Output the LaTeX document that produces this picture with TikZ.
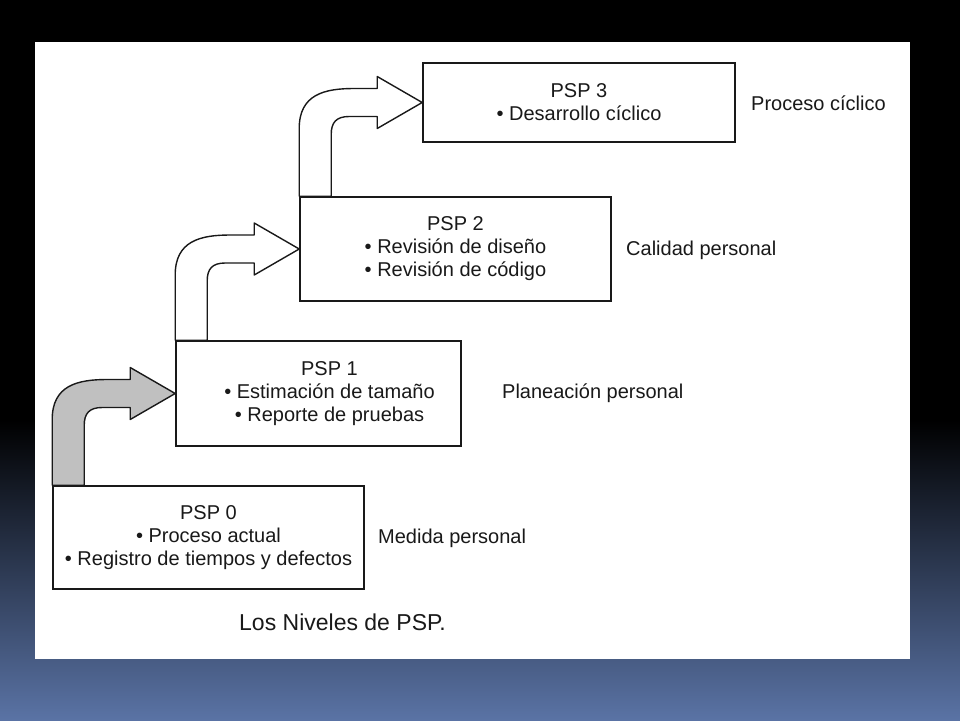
\documentclass[tikz,border=0pt]{standalone}
\usepackage{fontspec}
\setmainfont{Liberation Sans}
\usetikzlibrary{calc}
\definecolor{ink}{RGB}{25,25,25}
\definecolor{bgblue}{RGB}{90,115,165}
\definecolor{arrowgray}{RGB}{192,192,192}
\tikzset{
  boxnode/.style={draw=ink, line width=1.6pt, rectangle, inner sep=0pt, fill=white},
  boxtext/.style={align=center, text=ink, inner sep=0pt, font=\fontsize{20}{23}\selectfont},
  sidelabel/.style={anchor=west, text=ink, inner sep=0pt, font=\fontsize{20}{23}\selectfont},
  captionlabel/.style={anchor=west, text=ink, inner sep=0pt, font=\fontsize{23}{27}\selectfont},
  blockarrow/.style={draw=ink, line width=1.4pt, line join=round},
}
\newcommand{\steparrow}[3]{%
  \filldraw[blockarrow, fill=#3] let \p1=(#1.north west), \p2=(#2.west) in
    (\x1,\y1) -- (\x1,{\y2-26pt})
    .. controls (\x1,{\y2+8pt}) and ({\x1+25pt},{\y2+14pt}) .. ({\x1+55pt},{\y2+14pt})
    -- ({\x2-45pt},{\y2+14pt}) -- ({\x2-45pt},{\y2+26pt}) -- (\x2,\y2)
    -- ({\x2-45pt},{\y2-26pt}) -- ({\x2-45pt},{\y2-14pt})
    -- ({\x1+50pt},{\y2-14pt})
    .. controls ({\x1+37pt},{\y2-14pt}) and ({\x1+32pt},{\y2-20pt}) .. ({\x1+32pt},{\y2-32pt})
    -- ({\x1+32pt},\y1) -- cycle;%
}
\begin{document}
\begin{tikzpicture}[x=1pt,y=-1pt]
\useasboundingbox (0,0) rectangle (960,720);
% slide background
\fill[black] (0,0) rectangle (960,720);
\shade[top color=black, bottom color=bgblue] (0,420) rectangle (960,720);
\fill[white] (35,42) rectangle (910,659);

% level boxes
\node[boxnode, minimum width=311pt, minimum height=103pt] (b0) at (208.5,537.5) {};
\node[boxnode, minimum width=285pt, minimum height=105pt] (b1) at (318.5,393.5) {};
\node[boxnode, minimum width=311pt, minimum height=104pt] (b2) at (455.5,249) {};
\node[boxnode, minimum width=312pt, minimum height=79pt] (b3) at (579,102.5) {};

\node[boxtext] (t0) at (b0.center) {PSP 0\\ • Proceso actual\\ • Registro de tiempos y defectos};
\node[boxtext] (t1) at ([xshift=11pt]b1.center) {PSP 1\\ • Estimación de tamaño\\ • Reporte de pruebas};
\node[boxtext] (t2) at (b2.center) {PSP 2\\ • Revisión de diseño\\ • Revisión de código};
\node[boxtext] (t3) at (b3.center) {PSP 3\\ • Desarrollo cíclico};

% block arrows
\steparrow{b0}{b1}{arrowgray}
\steparrow{b1}{b2}{white}
\steparrow{b2}{b3}{white}

% side labels
\node[sidelabel] (l0) at (378,538) {Medida personal};
\node[sidelabel] (l1) at (502,393) {Planeación personal};
\node[sidelabel] (l2) at (626,250) {Calidad personal};
\node[sidelabel] (l3) at (751,103) {Proceso cíclico};

\node[captionlabel] (cap) at (239,622) {Los Niveles de PSP.};
\end{tikzpicture}
\end{document}
